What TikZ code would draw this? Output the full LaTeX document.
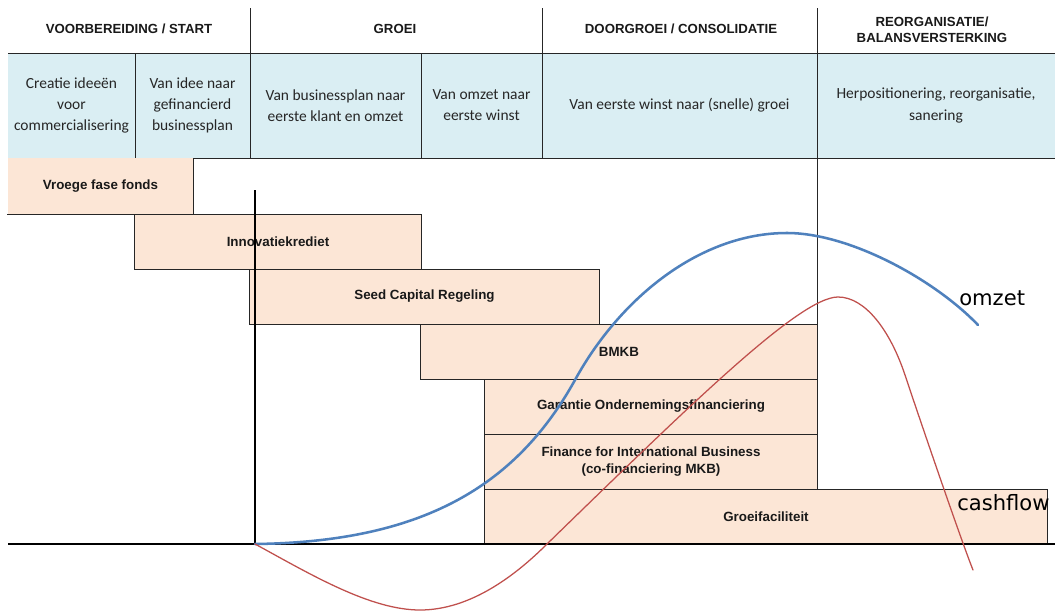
\documentclass[tikz,border=0pt]{standalone}
\usepackage{fontspec}
\setmainfont{Liberation Sans}
\newfontfamily\cellfont{Carlito}
\newfontfamily\curvefont{DejaVu Sans}
\usetikzlibrary{positioning}
\definecolor{cellblue}{RGB}{218,238,243}
\definecolor{barpeach}{RGB}{252,230,214}
\definecolor{omzetblue}{RGB}{79,129,189}
\definecolor{cashred}{RGB}{192,80,77}

\begin{document}
\begin{tikzpicture}[x=0.025cm, y=-0.025cm,
  phase/.style={font=\bfseries\fontsize{9.4}{11.5}\selectfont, align=center, text=black!90},
  cell/.style={rectangle, fill=cellblue, minimum height=2.625cm, inner sep=0pt, align=center, font=\cellfont\fontsize{11}{15}\selectfont, text=black!85},
  bar/.style={rectangle, draw=black!85, line width=0.7pt, fill=barpeach, minimum height=1.375cm, align=center, font=\bfseries\fontsize{9.5}{11.5}\selectfont, text=black!90},
  gridline/.style={draw=black!85, line width=0.7pt},
  curvelabel/.style={font=\curvefont\fontsize{15}{18}\selectfont, inner sep=0pt, anchor=west}]
\useasboundingbox (0,0) rectangle (1055,612);
\fill[white] (0,0) rectangle (1055,612);

% phases
\node[phase] (prep) at (129,29) {VOORBEREIDING / START};
\node[phase] (groei) at (395,29) {GROEI};
\node[phase] (consol) at (681,29) {DOORGROEI / CONSOLIDATIE};
\node[phase] (reorg) at (932,30) {REORGANISATIE/\\BALANSVERSTERKING};

% steps
\node[cell, minimum width=3.175cm] (idea) at (71.5,105.5) {Creatie ideeën\\voor\\commercialisering};
\node[cell, minimum width=2.9cm] (plan) at (192.5,105.5) {Van idee naar\\gefinancierd\\businessplan};
\node[cell, minimum width=4.3cm] (client) at (335.5,105.5) {Van businessplan naar\\eerste klant en omzet};
\node[cell, minimum width=3.05cm] (profit) at (481.5,105.5) {Van omzet naar\\eerste winst};
\node[cell, minimum width=6.9cm] (scale) at (679.5,105.5) {Van eerste winst naar (snelle) groei};
\node[cell, minimum width=5.95cm] (repos) at (936,105.5) {Herpositionering, reorganisatie,\\sanering};

\draw[gridline] (8,53) -- (1055,53);
\draw[gridline] (8,158) -- (1055,158);
\draw[gridline] (250,8) -- (250,158);
\draw[gridline] (542,8) -- (542,158);
\draw[gridline] (817,8) -- (817,489);
\draw[gridline] (135,53) -- (135,158);
\draw[gridline] (421,53) -- (421,158);

% instruments
\node[bar, draw=none, minimum width=4.625cm, minimum height=1.4cm] (vff) at (100.5,186) {Vroege fase fonds};
\draw[gridline] (vff.south west) -- (vff.south east) -- (vff.north east);
\node[bar, minimum width=7.15cm] (ik) at (278,241.5) {Innovatiekrediet};
\node[bar, minimum width=8.725cm] (scr) at (424.5,296.5) {Seed Capital Regeling};
\node[bar, minimum width=9.9cm] (bmkb) at (619,351.5) {BMKB};
\node[bar, minimum width=8.3cm] (go) at (651,406.5) {Garantie Ondernemingsfinanciering};
\node[bar, minimum width=8.3cm] (fib) at (651,461.5) {Finance for International Business\\(co-financiering MKB)};
\node[bar, minimum width=14.05cm] (gf) at (766,516.5) {Groeifaciliteit};

% axes
\draw[line width=1.4pt] (255,190) -- (255,544);
\draw[line width=1.4pt] (8,544) -- (1055,544);

% curves
\draw[omzetblue, line width=1.8pt, line cap=round] (255,544)
  .. controls (420,542) and (515,488) .. (575,380)
  .. controls (620,298) and (700,233) .. (787,233)
  .. controls (850,233) and (935,280) .. (978,325);
\draw[cashred, line width=0.9pt, line cap=round] (255,544)
  .. controls (310,574) and (370,610) .. (420,610)
  .. controls (470,610) and (515,576) .. (547,544)
  .. controls (690,405) and (800,297) .. (838,297)
  .. controls (865,297) and (890,330) .. (905,375)
  .. controls (920,420) and (961,540) .. (973,570);

\node[curvelabel] (omzet) at (959,298) {omzet};
\node[curvelabel] (cashflow) at (957,503) {cashflow};
\end{tikzpicture}
\end{document}
